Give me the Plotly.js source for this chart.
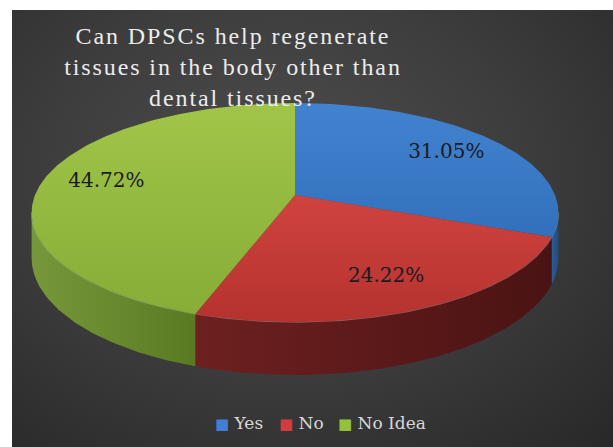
<!DOCTYPE html>
<html>
<head>
<meta charset="utf-8">
<script src="https://cdn.plot.ly/plotly-3.0.1.min.js"></script>
<style>
  html, body { margin: 0; padding: 0; background: #ffffff; }
  #chart {
    position: absolute; left: 12px; top: 10px; width: 601px; height: 437px;
    background: radial-gradient(ellipse 80% 85% at 45% 38%, #4d4d4d 0%, #3d3d3d 50%, #282828 100%);
  }
  #chart .gtitle { letter-spacing: 1.9px; }
</style>
</head>
<body>
<div id="chart"></div>
<script>
// ---- data ----
const categories = ['Yes', 'No', 'No Idea'];
const percentages = [31.05, 24.22, 44.72];
const titleText = 'Can DPSCs help regenerate<br>tissues in the body other than<br>dental tissues?';

// ---- styles / geometry (layout, not data) ----
const topColors = [['#4283d0', '#3270bb'], ['#cf433f', '#b5322e'], ['#a0c548', '#88ad38']];
const sideColors = [['#2a5d98', '#214c80'], ['#6e2020', '#4a1313'], ['#76983a', '#5a7a22']];
const legendColors = ['#3f80d2', '#d23c3c', '#92c13c'];

const W = 601, H = 437;
const cx = 283, cy = 185;      // projected pie centre (px in plot)
const A = 260, B = 106.7;      // radii of projected disk
const P = 0.16;                // perspective factor
const D = 44.5;                // thickness of the pie
const deg = Math.PI / 180;

function proj(r, phi, depth) {
  const s = Math.sin(phi * deg), c = Math.cos(phi * deg);
  const w = 1 + P * r * s;
  return [cx + r * A * c / w, cy - r * B * s / w + depth / w];
}
function arc(a0, a1, depth) {   // from a0 to a1 (degrees), inclusive
  const n = Math.max(2, Math.ceil(Math.abs(a1 - a0)));
  const xs = [], ys = [];
  for (let i = 0; i <= n; i++) {
    const a = a0 + (a1 - a0) * i / n;
    const p = proj(1, a, depth);
    xs.push(p[0]); ys.push(p[1]);
  }
  return [xs, ys];
}

const total = percentages.reduce((s, v) => s + v, 0);
const visLo = -180 + Math.asin(P) / deg, visHi = -Math.asin(P) / deg;

const sideTraces = [], topTraces = [], rimTraces = [];
let cum = 0;
const labelX = [], labelY = [], labelText = [];
percentages.forEach((v, i) => {
  const a0 = 90 - 360 * cum / total;
  const a1 = 90 - 360 * (cum + v) / total;
  cum += v;
  // side wall (front visible part)
  const lo = Math.max(a1, visLo), hi = Math.min(a0, visHi);
  if (lo < hi) {
    const t = arc(lo, hi, 0), b = arc(hi, lo, D);
    sideTraces.push({
      type: 'scatter', mode: 'lines', x: t[0].concat(b[0]), y: t[1].concat(b[1]),
      fill: 'toself', line: {width: 0, color: sideColors[i][1]},
      fillcolor: sideColors[i][0],
      fillgradient: {type: 'horizontal', colorscale: [[0, sideColors[i][0]], [1, sideColors[i][1]]]},
      hoverinfo: 'skip', showlegend: false
    });
    rimTraces.push({
      type: 'scatter', mode: 'lines', x: t[0], y: t[1],
      line: {width: 1.3, color: 'rgba(255,255,255,0.28)'},
      hoverinfo: 'skip', showlegend: false
    });
  }
  // top surface
  const t = arc(a0, a1, 0);
  topTraces.push({
    type: 'scatter', mode: 'lines', x: [cx].concat(t[0], [cx]), y: [cy].concat(t[1], [cy]),
    fill: 'toself', line: {width: 0, color: topColors[i][0]},
    fillcolor: topColors[i][0],
    fillgradient: {type: 'vertical', colorscale: [[0, topColors[i][1]], [1, topColors[i][0]]]},
    hoverinfo: 'skip', showlegend: false, name: categories[i]
  });
  // label
  const mid = (a0 + a1) / 2;
  const lp = proj(0.75, mid, 0);
  labelX.push(lp[0]); labelY.push(lp[1]);
  labelText.push(v.toFixed(2) + '%');
});

const labelTrace = {
  type: 'scatter', mode: 'text', x: labelX, y: labelY, text: labelText,
  textposition: 'middle center',
  textfont: {family: 'DejaVu Serif', size: 20, color: '#1b1b22'},
  hoverinfo: 'skip', showlegend: false
};

// legend as annotations
const legendX = [0.3344, 0.441, 0.539];
const annotations = categories.map((c, i) => ({
  xref: 'paper', yref: 'paper', x: legendX[i], y: 0.055, xanchor: 'left', yanchor: 'middle',
  showarrow: false,
  text: '<span style="color:' + legendColors[i] + ';font-size:15px">■</span> ' + c,
  font: {family: 'DejaVu Serif', size: 17, color: '#d8d8d8'}
}));

const layout = {
  width: W, height: H,
  margin: {l: 0, r: 0, t: 0, b: 0},
  paper_bgcolor: 'rgba(0,0,0,0)', plot_bgcolor: 'rgba(0,0,0,0)',
  xaxis: {range: [0, W], visible: false, fixedrange: true},
  yaxis: {range: [H, 0], visible: false, fixedrange: true},
  showlegend: false,
  hovermode: false,
  title: {
    text: titleText, x: 0.3677, xanchor: 'center', xref: 'container',
    y: 0.922, yanchor: 'top', yref: 'container',
    font: {family: 'Liberation Serif', size: 24, color: '#ececec'}
  },
  annotations: annotations
};

Plotly.newPlot('chart', sideTraces.concat(rimTraces, topTraces, [labelTrace]), layout,
  {displayModeBar: false, staticPlot: true});
</script>
</body>
</html>
